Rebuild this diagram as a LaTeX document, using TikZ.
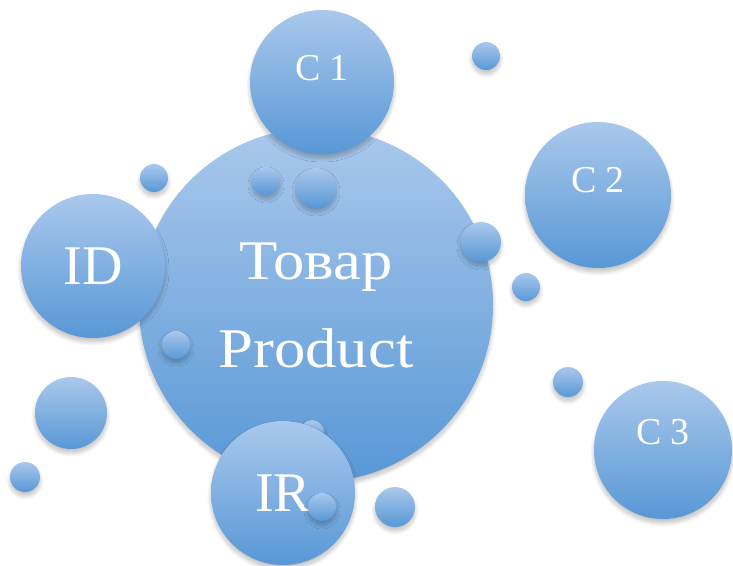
\documentclass[tikz,border=0pt]{standalone}
\usepackage{fontspec}
\setmainfont{Liberation Serif}
\newfontfamily\widefont{Liberation Serif}[FakeStretch=1.12]
\usetikzlibrary{shadows.blur}

\definecolor{bubtop}{RGB}{170,200,236}
\definecolor{bubbot}{RGB}{88,152,214}

\tikzset{
  bubble/.style={circle, inner sep=0pt, text=white, top color=bubtop, bottom color=bubbot,
    blur shadow={shadow xshift=0pt, shadow yshift=-2pt, shadow blur radius=2pt,
      shadow blur steps=16, shadow opacity=25}},
  lbl/.style={text=white, inner sep=0pt, font=\fontsize{19}{19}\selectfont},
  big/.style={font=\fontsize{28}{44}\selectfont},
}

\begin{document}
\begin{tikzpicture}[x=0.5pt, y=-0.5pt]
  \useasboundingbox (0,0) rectangle (733,566);

  \node[bubble, big, minimum size=177pt, align=center, font=\widefont\fontsize{28}{44}\selectfont] (prod) at (316,305) {Товар\\Product};

  \foreach \x/\y/\r [count=\i] in {266/181/14, 316/188/20, 176/345/14, 312/432/12}
    \node[bubble, minimum size=\r pt] (p\i) at (\x,\y) {};

  \node[bubble, minimum size=72pt, label={[lbl, yshift=7pt]center:C 1}] (c1) at (322,82) {};
  \node[bubble, big, minimum size=72pt] (id) at (93,266) {ID};
  \node[bubble, big, minimum size=72pt] (ir) at (283,493) {IR};

  \foreach \x/\y/\r [count=\i] in {481/242/20, 322/507/14}
    \node[bubble, minimum size=\r pt] (q\i) at (\x,\y) {};

  \node[bubble, minimum size=73pt, label={[lbl, yshift=7.5pt]center:C 2}] (c2) at (598,195) {};
  \node[bubble, minimum size=69pt, label={[lbl, yshift=9pt]center:C 3}] (c3) at (663,450) {};

  \foreach \x/\y/\r [count=\i] in {486/56/14, 154/178/14, 526/287/14, 568/382/15,
                                   71/413/36, 25/477/15, 395/507/20}
    \node[bubble, minimum size=\r pt] (d\i) at (\x,\y) {};
\end{tikzpicture}
\end{document}
